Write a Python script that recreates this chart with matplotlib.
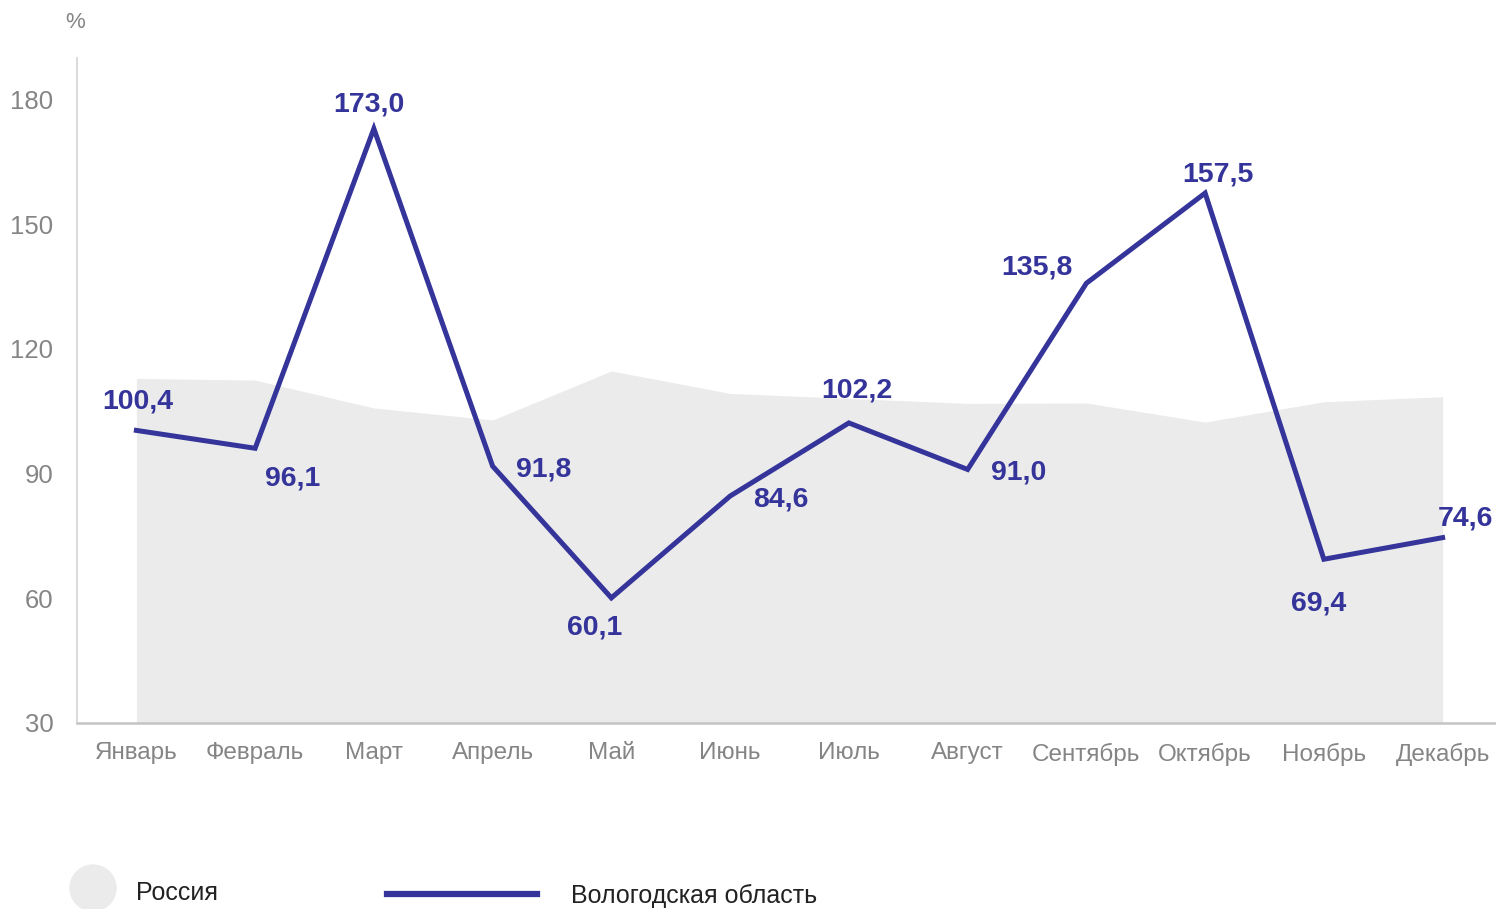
import matplotlib.pyplot as plt
from matplotlib.lines import Line2D
from matplotlib.patches import Ellipse

plt.rcParams['font.family'] = ['Liberation Sans', 'DejaVu Sans']

# Месяцы
months = ["Январь", "Февраль", "Март", "Апрель", "Май", "Июнь",
          "Июль", "Август", "Сентябрь", "Октябрь", "Ноябрь", "Декабрь"]

# Россия (серая область), %
russia = [112.9, 112.5, 105.8, 102.9, 114.7, 109.3,
          108.1, 106.9, 107.0, 102.4, 107.3, 108.5]

# Вологодская область, %
vologda = [100.4, 96.1, 173.0, 91.8, 60.1, 84.6,
           102.2, 91.0, 135.8, 157.5, 69.4, 74.6]

# Смещения подписей (пиксели)
offsets = [(1, 29), (38, -30), (-5, 24), (51, -3), (-17, -30), (51, -3),
           (8, 32), (51, -3), (-49, 16), (13, 19), (-5, -44), (23, 19)]

line_color = "#34349a"
area_color = "#ebebeb"
gray = "#858585"

fig = plt.figure(figsize=(14.96, 9.09), dpi=100)
ax = fig.add_axes([77 / 1496, 1 - 723 / 909, 1 - 77 / 1496 + 0.004, (723 - 58) / 909])

x = list(range(len(months)))
ax.fill_between(x, 30, russia, color=area_color, lw=0, zorder=1)
ax.plot(x, vologda, color=line_color, lw=3.6, solid_joinstyle='miter', zorder=3)

for xi, v, (dx, dy) in zip(x, vologda, offsets):
    ax.annotate(f"{v:.1f}".replace(".", ","), (xi, v), xytext=(dx, dy),
                textcoords='offset pixels', ha='center', va='center',
                fontsize=20.5, fontweight='bold', color=line_color, zorder=4)

ax.set_xlim(-0.5, 11.5)
ax.set_ylim(30, 190)
ax.set_yticks([30, 60, 90, 120, 150, 180])
ax.set_xticks(x)
ax.set_xticklabels(months)
ax.tick_params(axis='y', length=0, pad=17, labelsize=18.5, labelcolor=gray)
ax.tick_params(axis='x', length=0, pad=14, labelsize=17.5, labelcolor=gray)

for s in ['top', 'right']:
    ax.spines[s].set_visible(False)
ax.spines['left'].set_color('#d4d4d4')
ax.spines['left'].set_linewidth(1.2)
ax.spines['bottom'].set_color('#c4c4c4')
ax.spines['bottom'].set_linewidth(1.8)
ax.spines['bottom'].set_zorder(5)

fig.text(75 / 1496, 1 - 22 / 909, "%", ha='center', va='center',
         fontsize=16, color=gray)

# Легенда
fig.patches.append(Ellipse((93 / 1496, 1 - 888 / 909), 46 / 1496, 46 / 909,
                           transform=fig.transFigure, color=area_color))
fig.text(136 / 1496, 1 - 893 / 909, "Россия", ha='left', va='center',
         fontsize=18, color='#222222')
fig.lines.append(Line2D([387 / 1496, 537 / 1496], [1 - 894 / 909, 1 - 894 / 909],
                        transform=fig.transFigure, color=line_color, lw=4.5))
fig.text(571 / 1496, 1 - 896 / 909, "Вологодская область", ha='left', va='center',
         fontsize=18, color='#222222')

fig.savefig("out.png", dpi=100)
